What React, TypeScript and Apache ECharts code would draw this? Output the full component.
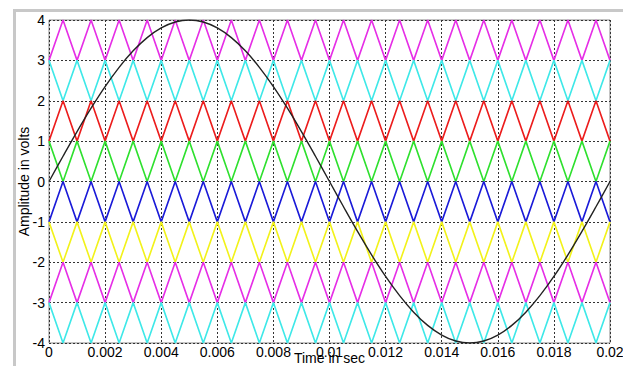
import React, { useEffect, useRef } from "react";
import * as echarts from "echarts";

// Time samples (s) of carrier vertices / sine samples
const times = [
  0, 0.0005, 0.001, 0.0015, 0.002, 0.0025, 0.003, 0.0035, 0.004, 0.0045,
  0.005, 0.0055, 0.006, 0.0065, 0.007, 0.0075, 0.008, 0.0085, 0.009, 0.0095,
  0.01, 0.0105, 0.011, 0.0115, 0.012, 0.0125, 0.013, 0.0135, 0.014, 0.0145,
  0.015, 0.0155, 0.016, 0.0165, 0.017, 0.0175, 0.018, 0.0185, 0.019, 0.0195,
  0.02,
];

// Reference sine (volts) at the same times
const sineValues = [
  0, 0.626, 1.236, 1.816, 2.351, 2.828, 3.236, 3.564, 3.804, 3.951,
  4, 3.951, 3.804, 3.564, 3.236, 2.828, 2.351, 1.816, 1.236, 0.626,
  0, -0.626, -1.236, -1.816, -2.351, -2.828, -3.236, -3.564, -3.804, -3.951,
  -4, -3.951, -3.804, -3.564, -3.236, -2.828, -2.351, -1.816, -1.236, -0.626,
  0,
];

// Carrier bands: value at even vertices, value at odd vertices
const bandStart = [3, 3, 1, 1, -1, -1, -3, -3];
const bandOther = [4, 2, 2, 0, 0, -2, -2, -4];
const bandColors = ["#e62ee6", "#3ee8e8", "#ec1c1c", "#2ee02e", "#1a1ad8", "#f2f21a", "#e62ee6", "#3ee8e8"];

const xTickLabels = ["0", "0.002", "0.004", "0.006", "0.008", "0.01", "0.012", "0.014", "0.016", "0.018", "0.02"];

export default function App() {
  const ref = useRef<HTMLDivElement>(null);
  useEffect(() => {
    document.body.style.margin = "0";
    const chart = echarts.init(ref.current!, null, { renderer: "svg" });
    const carrierSeries = bandStart.map((s, b) => ({
      type: "line",
      data: times.map((t, i) => [t, i % 2 === 0 ? s : bandOther[b]]),
      showSymbol: false,
      symbol: "none",
      lineStyle: { color: bandColors[b], width: 1.6 },
      z: 2,
    }));
    chart.setOption({
      animation: false,
      backgroundColor: "#ffffff",
      textStyle: { fontFamily: "Liberation Sans, Arial, sans-serif" },
      graphic: [
        { type: "rect", shape: { x: 13, y: 9, width: 610, height: 3 }, style: { fill: "#c8c8c8" }, silent: true },
        { type: "rect", shape: { x: 13, y: 9, width: 3, height: 357 }, style: { fill: "#c8c8c8" }, silent: true },
      ],
      grid: {
        left: 49, top: 20, right: 13, bottom: 23,
        outerBoundsMode: "none",
        containLabel: false,
        show: true, borderColor: "#888", borderWidth: 1, backgroundColor: "#fff",
      },
      xAxis: {
        type: "value",
        min: 0,
        max: 0.02,
        interval: 0.002,
        name: "Time in sec",
        nameLocation: "middle",
        nameGap: 8,
        nameMoveOverlap: false,
        nameTextStyle: { fontSize: 14, color: "#000" },
        axisLine: { show: false },
        axisTick: { show: false },
        axisLabel: {
          fontSize: 14,
          color: "#000",
          margin: 2,
          formatter: (v: number) => xTickLabels[Math.round(v / 0.002)] ?? "",
        },
        splitLine: { show: true, lineStyle: { color: "#333", type: [2, 2], width: 1 } },
      },
      yAxis: {
        type: "value",
        min: -4,
        max: 4,
        interval: 1,
        name: "Amplitude in volts",
        nameLocation: "middle",
        nameGap: 18,
        nameMoveOverlap: false,
        nameTextStyle: { fontSize: 14, color: "#000" },
        axisLine: { show: false },
        axisTick: { show: false },
        axisLabel: { fontSize: 14, color: "#000", margin: 4 },
        splitLine: { show: true, lineStyle: { color: "#333", type: [2, 2], width: 1 } },
      },
      series: [
        ...carrierSeries,
        {
          type: "line",
          data: times.map((t, i) => [t, sineValues[i]]),
          smooth: 0.4,
          showSymbol: false,
          symbol: "none",
          lineStyle: { color: "#222", width: 1.4 },
          z: 3,
        },
      ],
    });
    return () => chart.dispose();
  }, []);
  return <div ref={ref} style={{ width: 623, height: 366 }} />;
}
